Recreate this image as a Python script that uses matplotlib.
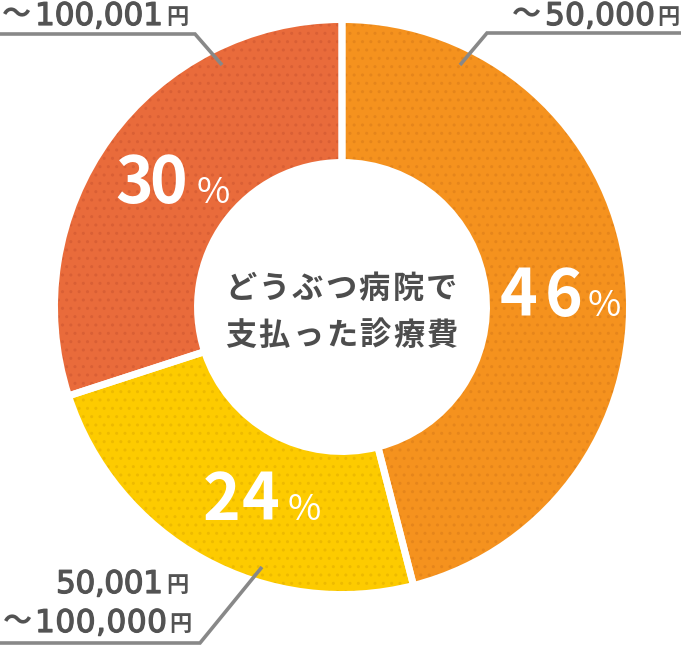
import matplotlib
matplotlib.use('Agg')
import matplotlib.pyplot as plt
import matplotlib.patheffects as pe

# ---------------- data ----------------
categories = ['～50,000円', '50,001円\n～100,000円', '～100,001円']
shares = [46, 24, 30]
pct_suffix = '%'
center_lines = ['どうぶつ病院で', '支払った診療費']

# ---------------- style ----------------
colors = ['#F5921E', '#FDCB00', '#E96B3B']
dot_colors = ['#E5851B', '#EDBA00', '#D95F35']
text_gray = '#535353'
center_gray = '#4D4D4D'
line_gray = '#888888'
CJK = 'Noto Sans CJK JP'
LAT = 'DejaVu Sans'

W, H = 681, 646
fig = plt.figure(figsize=(W / 100, H / 100), dpi=100)
ax = fig.add_axes([0, 0, 1, 1])


def P(x, y):
    return x, H - y


cx, cy = P(342, 307)
R = 287.5
ring = 143
common = dict(startangle=90, counterclock=False, radius=R, center=(cx, cy))

wedges, _ = ax.pie(shares, colors=colors, wedgeprops=dict(width=ring, linewidth=0), **common)
hw, _ = ax.pie(shares, colors=['none'] * 3, hatch='..',
               wedgeprops=dict(width=ring, linewidth=0), **common)
for w, c in zip(hw, dot_colors):
    w.set_facecolor('none')
    w.set_edgecolor(c)
    w.set_linewidth(0)
ax.pie(shares, colors=['none'] * 3,
       wedgeprops=dict(width=ring, linewidth=5, edgecolor='white', facecolor='none'), **common)

ax.set_xlim(0, W)
ax.set_ylim(0, H)
ax.set_aspect('equal')
ax.set_axis_off()

renderer = fig.canvas.get_renderer()


def fit_text(s, x0, x1, base, size, weight='normal', color=text_gray, family=LAT, effects=None):
    arts = [ax.text(0, 0, ch, fontsize=size, fontweight=weight, color=color,
                    family=family, ha='left', va='baseline') for ch in s]
    if effects:
        for t in arts:
            t.set_path_effects(effects)
    widths = [t.get_window_extent(renderer).width for t in arts]
    n = len(arts)
    gap = (x1 - x0 - sum(widths)) / (n - 1) if (n > 1 and x1 is not None) else 0
    x = x0
    for t, w in zip(arts, widths):
        t.set_position(P(x, base))
        x += w + gap


def split_label(line):
    pre = '～' if line.startswith('～') else ''
    body = line[len(pre):]
    suf = '円' if body.endswith('円') else ''
    num = body[:len(body) - len(suf)]
    return pre, num, suf


thick = [pe.withStroke(linewidth=0.9, foreground=text_gray)]

# label layout per category line: (tilde x0, x1), (num x0, x1), yen x0, baseline
label_layout = {
    0: [((512, 539), (545, 655), 657, 25)],
    1: [(None, (56, 163), 166, 593), ((3, 30), (35, 167), 169, 632)],
    2: [((2, 30), (35, 163), 166, 25)],
}
for i, cat in enumerate(categories):
    for line, (tl, nm, yen_x, base) in zip(cat.split('\n'), label_layout[i]):
        pre, num, suf = split_label(line)
        if pre and tl:
            fit_text(pre, tl[0], None, base - 2, 21, family=CJK, weight='bold')
        fit_text(num, nm[0], nm[1], base, 22.5, family=LAT, effects=thick)
        if suf:
            fit_text(suf, yen_x, None, base - 1, 16, family=CJK, weight='bold')

# percentage layout: digits span, % x0, baseline
pct_layout = [((500, 582), 588, 316), ((203, 279), 288, 520), ((115, 187), 197, 203)]
for v, ((a, b), px, base) in zip(shares, pct_layout):
    fit_text(str(v), a, b, base, 46, weight='bold', color='white', family=CJK)
    fit_text(pct_suffix, px, None, base, 26, color='white', family=CJK)

# center text
center_layout = [((225, 457), 298), ((225, 458), 345)]
for s, ((a, b), base) in zip(center_lines, center_layout):
    fit_text(s, a, b, base, 22.5, weight='bold', color=center_gray, family=CJK)

# leader lines
leaders = [
    [(460, 65), (487, 33), (681, 33)],
    [(262, 567), (200, 643), (0, 643)],
    [(222, 65), (195, 34), (0, 34)],
]
for pts in leaders:
    xs, ys = zip(*[P(x, y) for x, y in pts])
    ax.plot(xs, ys, color=line_gray, lw=2.6, solid_capstyle='butt', solid_joinstyle='miter')

fig.savefig('out.png', dpi=100)
